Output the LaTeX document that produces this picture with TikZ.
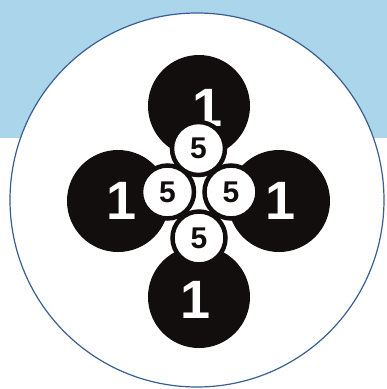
\documentclass[tikz,border=0pt]{standalone}
\usepackage{fontspec}
\setmainfont{Liberation Sans}
\definecolor{skyband}{RGB}{170,213,234}
\definecolor{rimblue}{RGB}{55,95,145}
\definecolor{inkblack}{RGB}{18,14,14}
\begin{document}
\begin{tikzpicture}[x=1pt,y=-1pt,
  bigdisc/.style={circle,fill=inkblack,minimum size=102pt,inner sep=0pt},
  smalldisc/.style={circle,fill=white,draw=inkblack,line width=4.5pt,minimum size=53pt,inner sep=0pt,
    font=\fontsize{30}{30}\selectfont\bfseries,text=inkblack},
  onelabel/.style={inner sep=0pt,text=white,font=\fontsize{54}{54}\selectfont\bfseries}]
\useasboundingbox (0,0) rectangle (387,389);
\fill[skyband] (0,0) rectangle (387,138);
\fill[white] (0,138) rectangle (387,389);
\node[circle,fill=white,draw=rimblue,line width=1.2pt,minimum size=374pt,inner sep=0pt] (rim) at (197,200) {};
% black discs
\node[bigdisc] (btop) at (199,106) {};
\node[bigdisc] (bbot) at (199,297) {};
\node[bigdisc] (bleft) at (118,201) {};
\node[bigdisc] (bright) at (279,201) {};
% labels 1
\node[onelabel] (ltop) at (208,108) {1};
\node[onelabel] (lbot) at (196,300) {1};
\node[onelabel] (lleft) at (122,201) {1};
\node[onelabel] (lright) at (281,201) {1};
% white discs 5
\node[smalldisc] (stop) at (198.5,148.5) {5};
\node[smalldisc] (sbot) at (199,238) {5};
\node[smalldisc] (sleft) at (167.5,192) {5};
\node[smalldisc] (sright) at (231,192) {5};
\end{tikzpicture}
\end{document}
